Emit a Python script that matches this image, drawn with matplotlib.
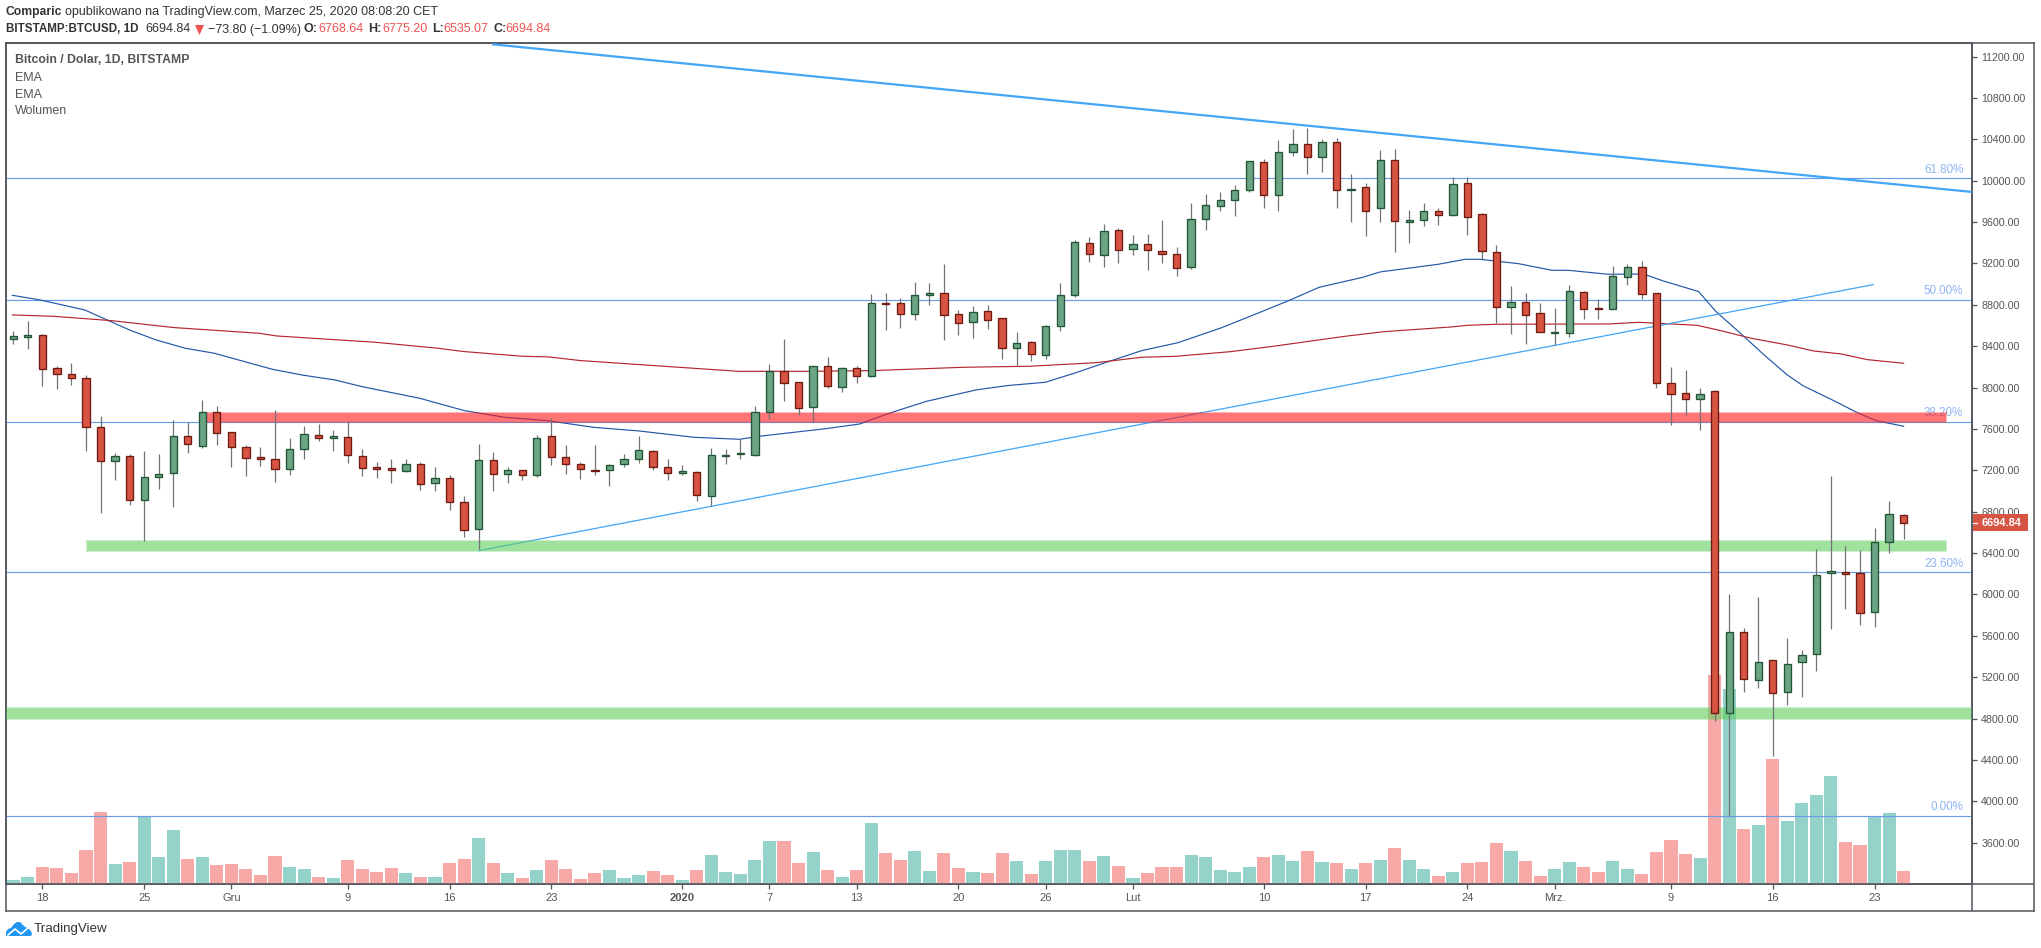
"""BTCUSD daily candles with EMAs, fib levels and volume, TradingView style."""

import matplotlib
matplotlib.use("Agg")
import matplotlib.pyplot as plt
from matplotlib.lines import Line2D
from matplotlib.patches import Rectangle, Polygon

W, H = 2041, 948
plt.rcParams["font.family"] = ["Liberation Sans", "DejaVu Sans"]

# first candle is 16 Nov 2019, day 0 is 18 Nov 2019
first_day = -2
opens = [8466, 8492, 8505, 8186, 8128, 8089, 7616, 7287, 7335, 6910, 7132, 7171, 7529, 7432, 7760, 7567, 7422, 7326, 7306, 7210,
         7403, 7538, 7509, 7519, 7335, 7229, 7219, 7190, 7258, 7074, 7123, 6891, 6630, 7296, 7161, 7200, 7152, 7529, 7326, 7258,
         7200, 7200, 7258, 7306, 7384, 7229, 7171, 7181, 6949, 7335, 7361, 7352, 7767, 8157, 8051, 7816, 8206, 8009, 8186, 8109,
         8818, 8815, 8715, 8898, 8911, 8708, 8637, 8737, 8670, 8386, 8438, 8318, 8599, 8898, 9395, 9285, 9520, 9343, 9385, 9317,
         9288, 9169, 9627, 9759, 9810, 9913, 10177, 9858, 10274, 10351, 10232, 10371, 9914, 9936, 9733, 10197, 9598, 9617, 9704, 9666,
         9975, 9675, 9308, 8783, 8825, 8718, 8531, 8525, 8921, 8766, 8763, 9066, 9163, 8911, 8042, 7945, 7893, 7964, 4851, 5634,
         5170, 5364, 5054, 5344, 5422, 6205, 6214, 6205, 5828, 6504, 6768.64]
highs = [8547, 8643, 8514, 8205, 8237, 8118, 7722, 7364, 7354, 7387, 7358, 7686, 7670, 7880, 7822, 7567, 7442, 7425, 7783, 7512,
         7625, 7648, 7590, 7673, 7406, 7280, 7306, 7306, 7280, 7232, 7155, 6949, 7454, 7377, 7232, 7200, 7538, 7706, 7445, 7277,
         7445, 7258, 7354, 7532, 7393, 7306, 7251, 7190, 7416, 7406, 7500, 7822, 8228, 8470, 8051, 8206, 8296, 8199, 8209, 8905,
         8914, 8863, 9021, 9011, 9195, 8750, 8789, 8798, 8670, 8537, 8447, 8605, 9011, 9427, 9456, 9581, 9543, 9475, 9485, 9620,
         9359, 9788, 9871, 9891, 9962, 10187, 10210, 10393, 10500, 10509, 10403, 10413, 10065, 9975, 10297, 10307, 9717, 9781, 9733, 10033,
         10033, 9688, 9379, 8986, 8911, 8815, 8767, 8992, 8931, 8854, 9179, 9195, 9224, 8911, 8199, 8170, 7997, 7975, 6005, 5673,
         5976, 5364, 5576, 5463, 6436, 7145, 6469, 6430, 6640, 6904, 6775.20]
lows = [8424, 8376, 8018, 7989, 8028, 7390, 6791, 7110, 6865, 6520, 7023, 6849, 7371, 7416, 7448, 7235, 7148, 7245, 7090, 7158,
        7313, 7487, 7390, 7274, 7148, 7129, 7081, 7181, 7013, 7003, 6820, 6559, 6436, 7003, 7081, 7110, 7132, 7255, 7168, 7119,
        7158, 7052, 7235, 7274, 7206, 7110, 7158, 6907, 6858, 7264, 7309, 7342, 7697, 7870, 7738, 7671, 7999, 7958, 8045, 8099,
        8557, 8576, 8653, 8798, 8460, 8508, 8479, 8566, 8276, 8206, 8257, 8276, 8547, 8879, 9214, 9166, 9204, 9285, 9137, 9204,
        9079, 9146, 9523, 9707, 9659, 9891, 9736, 9707, 10242, 10065, 10084, 9736, 9604, 9469, 9604, 9314, 9401, 9566, 9575, 9659,
        9479, 9243, 8628, 8522, 8425, 8535, 8412, 8489, 8663, 8667, 8757, 8992, 8857, 8000, 7642, 7736, 7590, 4780, 3859, 5061,
        5099, 4442, 4935, 5012, 5264, 5670, 5863, 5708, 5689, 6404, 6535.07]
closes = [8495, 8508, 8176, 8128, 8089, 7616, 7287, 7335, 6910, 7132, 7161, 7529, 7451, 7760, 7557, 7422, 7316, 7306, 7210, 7403,
          7548, 7509, 7529, 7345, 7219, 7210, 7200, 7258, 7065, 7123, 6891, 6620, 7296, 7161, 7200, 7152, 7509, 7326, 7258, 7210,
          7190, 7248, 7306, 7393, 7229, 7171, 7190, 6958, 7345, 7345, 7367, 7761, 8157, 8048, 7806, 8206, 8019, 8186, 8109, 8815,
          8811, 8715, 8892, 8911, 8705, 8628, 8728, 8657, 8386, 8428, 8328, 8592, 8892, 9404, 9295, 9511, 9333, 9385, 9333, 9295,
          9159, 9627, 9762, 9810, 9907, 10187, 9858, 10274, 10351, 10232, 10371, 9907, 9920, 9704, 10197, 9607, 9617, 9704, 9672, 9965,
          9653, 9318, 8783, 8825, 8705, 8535, 8538, 8931, 8757, 8763, 9076, 9163, 8902, 8042, 7942, 7893, 7935, 4851, 5634, 5180,
          5344, 5045, 5325, 5412, 6185, 6224, 6195, 5818, 6504, 6775, 6694.84]
# volume has no readable scale on the chart, so these are relative heights
volumes = [4.3, 7.3, 17.3, 16.3, 11.3, 34.3, 72.3, 20.3, 22.3, 68, 27.3, 54.3, 25.3, 27.3, 19.3, 20.3, 15.3, 9.3, 28.3, 17.3,
           15.3, 7.3, 6.3, 24.3, 15.3, 12.3, 16.3, 11.3, 7.3, 7.3, 21.3, 25.3, 46.3, 21.3, 11.3, 6.3, 14.3, 24.3, 15.3, 5.3,
           11.3, 14.3, 6.3, 9.3, 13.3, 9.3, 4.3, 14.3, 29.3, 12.3, 10.3, 24.3, 43.3, 43.3, 21.3, 32.3, 14.3, 7.3, 14.3, 61.3,
           31.3, 24.3, 33.3, 13.3, 31.3, 16.3, 12.3, 11.3, 31.3, 23.3, 10.3, 23.3, 34.3, 34.3, 23.3, 28.3, 18.3, 6.3, 11.3, 17.3,
           17.3, 29.3, 27.3, 14.3, 12.3, 17.3, 27.3, 29.3, 23.3, 33, 22, 21, 15, 21, 24, 36, 24, 15, 8, 12,
           21, 22, 41, 33, 23, 8, 15, 22, 17, 12, 23, 15, 10, 32, 44, 30, 26, 209, 195, 55,
           59, 125, 63, 81, 89, 108, 42, 39, 68, 71, 13]

ema_fast_days = [-2.06, -0.15, 2.92, 5.99, 7.83, 9.83, 11.82, 15.81, 17.96, 20.11, 21.95, 25.94, 29.02, 31.78, 34.7, 37.9, 41, 44.85,
                 47.93, 49.46, 51.9, 54.07, 56.2, 58.37, 60.8, 64.2, 66.35, 68.96, 70.95, 73.1, 75.6, 78.1, 81.1, 83.85, 85.7,
                 87.8, 90.8, 92, 96, 97.85, 98.9, 101.5, 103.8, 104.9, 107.7, 110.1, 111.4, 113.9, 115.1, 116.9, 118.4, 120, 121.1,
                 123.1, 124.9, 126.1, 128]
ema_fast = [8892, 8847, 8750, 8557, 8460, 8380, 8332, 8177, 8119, 8074, 8010, 7897, 7777, 7713, 7681, 7616, 7581, 7519,
            7500, 7532, 7571, 7606, 7648, 7758, 7867, 7977, 8019, 8051, 8138, 8241, 8357, 8434, 8579, 8734, 8840,
            8969, 9066, 9118, 9192, 9240, 9240, 9198, 9134, 9134, 9095, 9098, 9034, 8928, 8734, 8509, 8316, 8122, 8016,
            7880, 7752, 7681, 7626]
ema_slow_days = [-2.06, 0.77, 4.76, 9.06, 14.9, 16.1, 22.9, 27.2, 29, 33, 34.85, 37, 41.8, 47.9, 52.4, 57.1, 63.3, 67.9, 72.5, 75.6,
                 77.9, 81.7, 84.8, 89.6, 92.3, 96.9, 98, 100, 107.7, 109.8, 113.8, 115.4, 117.5, 120, 121.8, 123.7, 125.5, 128]
ema_slow = [8702, 8689, 8647, 8580, 8525, 8499, 8438, 8380, 8348, 8303, 8296, 8261, 8215, 8157, 8157, 8164, 8196, 8206, 8241, 8293,
            8302, 8347, 8402, 8496, 8541, 8586, 8602, 8612, 8615, 8631, 8602, 8551, 8477, 8412, 8354, 8325, 8270, 8235]

fib_levels = [10023, 8844, 7670, 6214, 3856]
fib_labels = ["61.80%", "50.00%", "38.20%", "23.60%", "0.00%"]

tick_days = [0, 7, 13, 21, 28, 35, 44, 50, 56, 63, 69, 75, 84, 91, 98, 104, 112, 119, 126]
tick_names = ["18", "25", "Gru", "9", "16", "23", "2020", "7", "13", "20", "26", "Lut", "10", "17", "24", "Mrz.", "9", "16", "23"]
price_ticks = list(range(3600, 11201, 400))

UP, DOWN = "#6ba583", "#d75442"
UP_EDGE, DOWN_EDGE = "#225437", "#6f1a13"
WICK = "#737375"
AXIS = "#50535a"
TEXT = "#555555"
FIB = "#6a9cea"
FIB_TEXT = "#90b4f2"
TREND = "#42a5f5"
GREEN_ZONE = (0.38, 0.81, 0.37)
RED_ZONE = (1, 0.1, 0.11)

days = list(range(first_day, first_day + len(opens)))
rising = [c >= o for o, c in zip(opens, closes)]


def px_rect(left, top, right, bottom):
    return [left / W, 1 - bottom / H, (right - left) / W, (bottom - top) / H]


def put(x, y, s, **kw):
    kw.setdefault("va", "center")
    kw.setdefault("fontsize", 9.0)
    kw.setdefault("color", "#333333")
    return fig.text(x / W, 1 - y / H, s, **kw)


def zone(start, end, low, high, rgb):
    # pale one pixel halo around a stronger fill
    ax.add_patch(Rectangle((start, low), end - start, high - low, fc=rgb + (0.3,), ec="none", zorder=4))
    ax.add_patch(Rectangle((start + 0.07, low + 10), end - start - 0.14, high - low - 20, fc=rgb + (0.43,), ec="none", zorder=4))


fig = plt.figure(figsize=(W / 100, H / 100), dpi=100, facecolor="white")

# outer frame around chart and both scales
frame = fig.add_axes(px_rect(6, 43, 2034, 911))
frame.set_xticks([])
frame.set_yticks([])
frame.set_xlim(6, 2034)
frame.set_ylim(911, 43)
for sp in frame.spines.values():
    sp.set_color(AXIS)
    sp.set_linewidth(1.1)
frame.axhline(884, color=AXIS, lw=1.1)
frame.axvline(1972, color=AXIS, lw=1.1)

# volume sits under the price pane
ax_vol = fig.add_axes(px_rect(6, 43, 1972, 884), zorder=1)
ax_vol.axis("off")
ax_vol.bar(days, volumes, width=0.9, color=["#94d2ca" if r else "#f7a9a7" for r in rising], linewidth=0)
ax_vol.set_xlim(-2.5, 132.7)
ax_vol.set_ylim(0, 841)

ax = fig.add_axes(px_rect(6, 43, 1972, 884), zorder=2)
ax.patch.set_alpha(0)
ax.set_xlim(-2.5, 132.7)
ax.set_ylim(3201, 11331)

for level, label in zip(fib_levels, fib_labels):
    ax.axhline(level, color=FIB, lw=0.85, zorder=2)
    ax.annotate(label, (132.1, level), xytext=(0, 2), textcoords="offset points", ha="right", va="bottom",
                color=FIB_TEXT, fontsize=8.4, zorder=2)

ax.plot(ema_fast_days, ema_fast, color="#2257a8", lw=0.85, zorder=3)
ax.plot(ema_slow_days, ema_slow, color="#b5262e", lw=0.85, zorder=3)

# trend lines, anchored on the candle lows/highs they were drawn from
ax.plot([31, 132.7], [11318, 9891], color=TREND, lw=1.6, zorder=3)
ax.plot([30, 125.9], [6423, 8995], color=TREND, lw=0.9, zorder=3)

# support and resistance zones
zone(3, 131, 6413, 6523, GREEN_ZONE)
zone(-2.5, 132.7, 4789, 4909, GREEN_ZONE)
zone(11, 131, 7661, 7761, RED_ZONE)

ax.vlines(days, lows, highs, color=WICK, lw=0.9, zorder=5)
ax.bar(days, [c - o for o, c in zip(opens, closes)], bottom=opens, width=0.5,
       color=[UP if r else DOWN for r in rising],
       edgecolor=[UP_EDGE if r else DOWN_EDGE for r in rising], linewidth=0.95, zorder=6)

ax.yaxis.tick_right()
ax.set_yticks(price_ticks)
ax.set_yticklabels([f"{p:.2f}" for p in price_ticks], color=TEXT, fontsize=7.7)
ax.set_xticks(tick_days)
ax.set_xticklabels(tick_names, color=TEXT, fontsize=8)
ax.tick_params(axis="both", length=3.6, width=0.9, color=AXIS, pad=3)
ax.get_xticklabels()[tick_names.index("2020")].set_fontweight("bold")
for sp in ax.spines.values():
    sp.set_color(AXIS)
    sp.set_linewidth(1.1)

# last price tag on the scale
fig.add_artist(Rectangle((1973 / W, 1 - 531 / H), 55 / W, 17 / H, transform=fig.transFigure, fc=DOWN, ec="none", zorder=5))
fig.add_artist(Line2D([1973 / W, 1977 / W], [1 - 522.5 / H] * 2, transform=fig.transFigure, color="white", lw=0.9, zorder=6))
put(2002, 522.5, "6694.84", color="white", fontsize=7.9, fontweight="bold", ha="center", zorder=6)

# header
put(6, 12.5, "Comparic", fontweight="bold", fontsize=8.7)
put(64.7, 12.5, "opublikowano na TradingView.com, Marzec 25, 2020 08:08:20 CET")
put(6, 29.5, "BITSTAMP:BTCUSD, 1D", fontweight="bold", fontsize=8.4)
put(145, 29.5, "6694.84")
fig.add_artist(Polygon([(195 / W, 1 - 25 / H), (204 / W, 1 - 25 / H), (199.5 / W, 1 - 35 / H)],
                       transform=fig.transFigure, fc="#ef5350", ec="none"))
put(208, 29.5, "\u221273.80 (\u22121.09%)")
for x_key, key, x_val, val in [(304, "O:", 318, "6768.64"), (368, "H:", 382.5, "6775.20"),
                               (432, "L:", 443, "6535.07"), (493, "C:", 505, "6694.84")]:
    put(x_key, 29.5, key, fontweight="bold")
    put(x_val, 29.5, val, color="#ef5350")

# legend block
put(15, 60, "Bitcoin / Dolar, 1D, BITSTAMP", color=TEXT, fontweight="bold", fontsize=8.8, zorder=7)
put(15, 78, "EMA", color=TEXT, zorder=7)
put(15, 95, "EMA", color=TEXT, zorder=7)
put(15, 111.5, "Wolumen", color=TEXT, zorder=7)

# footer logo, cloud with a white zigzag
cloud = [(6, 936), (6, 932), (8, 929), (11, 928), (14, 924), (17, 922), (20, 922), (23, 925),
         (25, 927), (28, 928), (31, 931), (32, 934), (31, 936)]
fig.add_artist(Polygon([(x / W, 1 - y / H) for x, y in cloud], transform=fig.transFigure, fc="#2196f3", ec="none"))
zigzag = [(8, 935), (15, 929), (21, 934), (28, 928)]
fig.add_artist(Line2D([x / W for x, y in zigzag], [1 - y / H for x, y in zigzag], transform=fig.transFigure,
                      color="white", lw=1.2))
put(34, 929, "TradingView", color="#333333", fontsize=9.6)

fig.savefig("out.png", dpi=100)
